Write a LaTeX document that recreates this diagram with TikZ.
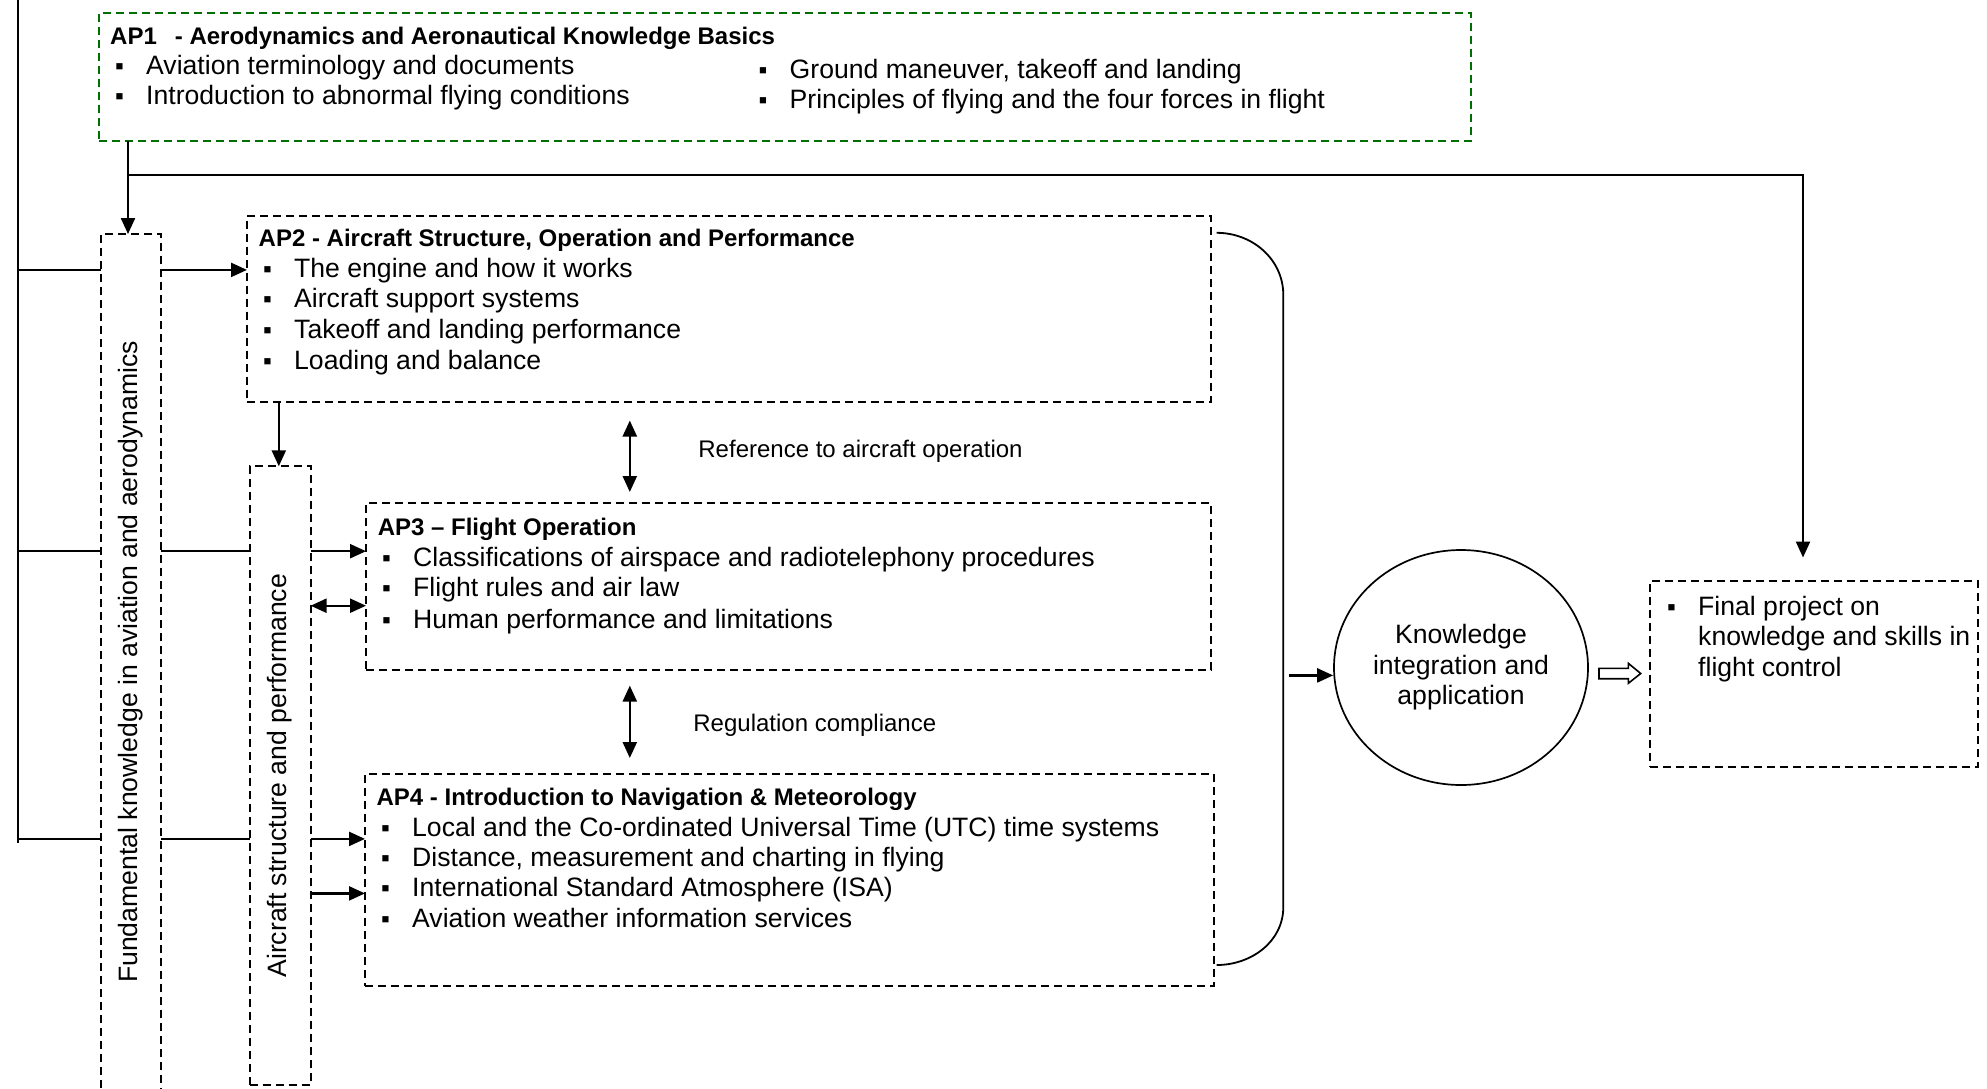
\documentclass[tikz,border=0pt]{standalone}
\usepackage{fontspec}
\setmainfont{Liberation Sans}
\usetikzlibrary{arrows.meta,shapes.geometric}
\definecolor{apgreen}{RGB}{0,110,0}
\newcommand{\bodyf}{\fontsize{26.6}{30.4}\selectfont}
\newcommand{\titf}{\fontsize{24}{28}\selectfont\bfseries}
\newcommand{\itm}{\makebox[31pt][l]{\fontsize{25}{25}\selectfont ▪}}
\begin{document}
\begin{tikzpicture}[x=1pt,y=-1pt,
  box/.style={draw, dash pattern=on 8pt off 5pt, line width=2pt, anchor=north west, inner sep=0pt, outer sep=0pt},
  conn/.style={line width=2.3pt},
  arr/.style={conn, -{Triangle[length=16pt,width=14pt]}},
  darr/.style={conn, {Triangle[length=16pt,width=14pt]}-{Triangle[length=16pt,width=14pt]}},
  txt/.style={anchor=base west, inner sep=0pt, font=\bodyf},
  ttl/.style={anchor=base west, inner sep=0pt, font=\titf},
  lbl/.style={anchor=base west, inner sep=0pt, font=\fontsize{24}{28}\selectfont}]
\useasboundingbox (0,0) rectangle (1987,1088);

% boxes
\node[box, draw=apgreen, minimum width=1372pt, minimum height=128pt] (ap1) at (99,13) {};
\node[box, minimum width=60pt, minimum height=880pt] (fund) at (101,234) {};
\node[box, minimum width=61pt, minimum height=619pt] (acs) at (249.6,466.3) {};
\node[box, minimum width=964pt, minimum height=186pt] (ap2) at (247,215.5) {};
\node[box, minimum width=845pt, minimum height=167pt] (ap3) at (366,503) {};
\node[box, minimum width=849pt, minimum height=212pt] (ap4) at (365,774) {};
\node[box, minimum width=328pt, minimum height=186pt] (final) at (1650,580.5) {};
\node[draw, ellipse, line width=1.7pt, minimum width=254pt, minimum height=235pt, inner sep=0pt, align=center, font=\bodyf] (kia) at (1461,667.5) {Knowledge\\integration and\\application};

% rotated labels
\node[rotate=90, inner sep=0pt, font=\bodyf] (fundt) at (131,662) {Fundamental knowledge in aviation and aerodynamics};
\node[rotate=90, inner sep=0pt, font=\bodyf] (acst) at (acs.center) {Aircraft structure and performance};

% AP1 texts
\node[ttl] (t1) at (110,44) {AP1\hspace{0.75em}- Aerodynamics and Aeronautical Knowledge Basics};
\node[txt] (a11) at (115,74.4) {\itm Aviation terminology and documents};
\node[txt] (a12) at (115,104.8) {\itm Introduction to abnormal flying conditions};
\node[txt] (a13) at (758.5,78.2) {\itm Ground maneuver, takeoff and landing};
\node[txt] (a14) at (758.5,108.6) {\itm Principles of flying and the four forces in flight};

% AP2 texts
\node[ttl] (t2) at (258.5,246) {AP2 - Aircraft Structure, Operation and Performance};
\node[txt] (a21) at (263,277.1) {\itm The engine and how it works};
\node[txt] (a22) at (263,307.5) {\itm Aircraft support systems};
\node[txt] (a23) at (263,338) {\itm Takeoff and landing performance};
\node[txt] (a24) at (263,369.7) {\itm Loading and balance};

% AP3 texts
\node[ttl] (t3) at (377.6,535) {AP3 – Flight Operation};
\node[txt] (a31) at (382,566) {\itm Classifications of airspace and radiotelephony procedures};
\node[txt] (a32) at (382,596.5) {\itm Flight rules and air law};
\node[txt] (a33) at (382,628.2) {\itm Human performance and limitations};

% AP4 texts
\node[ttl] (t4) at (376.4,805) {AP4 - Introduction to Navigation \& Meteorology};
\node[txt] (a41) at (381,836) {\itm Local and the Co-ordinated Universal Time (UTC) time systems};
\node[txt] (a42) at (381,866.4) {\itm Distance, measurement and charting in flying};
\node[txt] (a43) at (381,896.8) {\itm International Standard Atmosphere (ISA)};
\node[txt] (a44) at (381,927.2) {\itm Aviation weather information services};

% final texts
\node[txt] (f1) at (1667,615.5) {\itm Final project on};
\node[txt] (f2) at (1698,645.9) {knowledge and skills in};
\node[txt] (f3) at (1698,676.3) {flight control};

% labels
\node[lbl] (l1) at (698.2,457.5) {Reference to aircraft operation};
\node[lbl] (l2) at (693.2,731) {Regulation compliance};

% trunk and branches
\coordinate (tt) at (17.7,0);
\coordinate (tb) at (17.7,843);
\draw[conn] (tt) -- (tb);
\coordinate (ha) at (17.7,269.9);
\coordinate (hb) at (17.7,551.2);
\coordinate (hc) at (17.7,838.9);
\draw[conn] (ha) -- (ha -| fund.west);
\draw[conn] (hb) -- (hb -| fund.west);
\draw[conn] (hc) -- (hc -| fund.west);
\draw[arr] (fund.east |- ha) -- (ap2.west |- ha);
\draw[conn] (fund.east |- hb) -- (acs.west |- hb);
\draw[conn] (fund.east |- hc) -- (acs.west |- hc);

% AP1 outputs
\coordinate (k) at (128,0);
\draw[arr] (ap1.south -| k) -- (fund.north -| k);
\coordinate (hk) at (128,174.9);
\coordinate (fk) at (1803,174.9);
\draw[arr, shorten >=23pt] (hk) -- (fk) -- (fk |- final.north);

% AP2 to structure column
\coordinate (m) at (278.8,0);
\draw[arr] (ap2.south -| m) -- (acs.north -| m);

% structure column to AP3 / AP4
\coordinate (d1) at (0,605.7);
\coordinate (d2) at (0,893.4);
\draw[arr] (acs.east |- hb) -- (ap3.west |- hb);
\draw[darr] (acs.east |- d1) -- (ap3.west |- d1);
\draw[arr] (acs.east |- hc) -- (ap4.west |- hc);
\draw[arr] (acs.east |- d2) -- (ap4.west |- d2);

% vertical double arrows
\coordinate (v) at (629.8,0);
\draw[darr, shorten <=19pt, shorten >=11pt] (ap2.south -| v) -- (ap3.north -| v);
\draw[darr, shorten <=15.6pt, shorten >=16pt] (ap3.south -| v) -- (ap4.north -| v);

% bracket
\coordinate (b1) at (1216.7,232.8);
\coordinate (b2) at (1283.3,295);
\coordinate (b3) at (1283.3,907);
\coordinate (b4) at (1216.7,965);
\draw[line width=1.8pt] (b1) to[out=0,in=90] (b2) -- (b3) to[out=-90,in=0] (b4);

% arrow to circle
\coordinate (c0) at (1288.8,675.4);
\draw[arr] (c0) -- (c0 -| kia.west);

% hollow arrow
\draw[line width=1.6pt] (1599,668.3) -- (1628.3,668.3) -- (1628.3,663.3) -- (1640.7,673.5) -- (1628.3,683.3) -- (1628.3,678.7) -- (1599,678.7) -- cycle;
\end{tikzpicture}
\end{document}
